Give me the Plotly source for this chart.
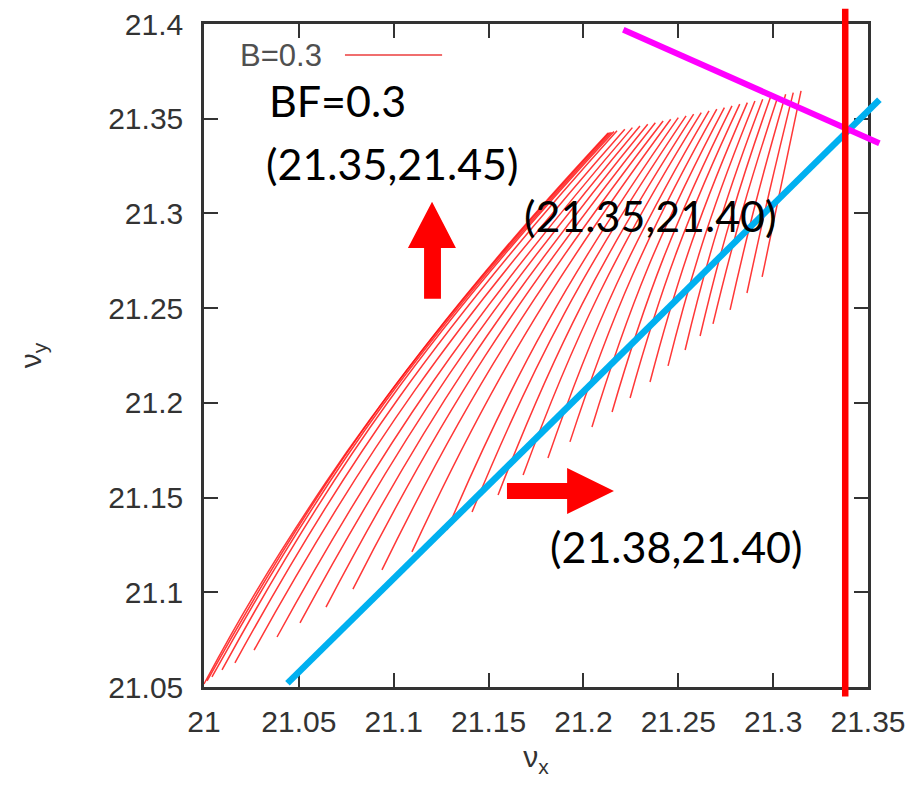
import plotly.graph_objects as go

# ---- axes -------------------------------------------------------------
x_ticks = [21.0, 21.05, 21.1, 21.15, 21.2, 21.25, 21.3, 21.35]
x_tick_text = ["21", "21.05", "21.1", "21.15", "21.2", "21.25", "21.3", "21.35"]
y_ticks = [21.05, 21.1, 21.15, 21.2, 21.25, 21.3, 21.35, 21.4]
y_tick_text = ["21.05", "21.1", "21.15", "21.2", "21.25", "21.3", "21.35", "21.4"]
x_range = [21.0, 21.35]
y_range = [21.05, 21.4]

# ---- tune footprint (B = 0.3) ------------------------------------------
# left envelope of the footprint
envelope_x = [21.0000, 21.0270, 21.0640, 21.0912, 21.1151, 21.1360, 21.1702, 21.2130]
envelope_y = [21.0516, 21.0996, 21.1577, 21.1963, 21.2279, 21.2543, 21.2950, 21.3425]

# the remaining footprint lines: lower end, middle point, upper end
bottom_x = [21.0016, 21.0042, 21.0095, 21.0163, 21.0264, 21.0385, 21.0506, 21.0643,
            21.0785, 21.0938, 21.1096, 21.1281, 21.1413, 21.1550, 21.1682, 21.1813,
            21.1929, 21.2045, 21.2151, 21.2246, 21.2351, 21.2446, 21.2536, 21.2615,
            21.2683, 21.2773, 21.2862, 21.2942]
bottom_y = [21.0532, 21.0553, 21.0590, 21.0627, 21.0695, 21.0764, 21.0838, 21.0922,
            21.1017, 21.1118, 21.1213, 21.1329, 21.1424, 21.1514, 21.1619, 21.1709,
            21.1794, 21.1873, 21.1952, 21.2026, 21.2110, 21.2195, 21.2279, 21.2353,
            21.2417, 21.2491, 21.2580, 21.2665]
mid_x = [21.0925, 21.0945, 21.0975, 21.1030, 21.1114, 21.1205, 21.1292, 21.1386,
         21.1482, 21.1584, 21.1689, 21.1806, 21.1898, 21.1992, 21.2083, 21.2174,
         21.2258, 21.2341, 21.2420, 21.2493, 21.2571, 21.2644, 21.2714, 21.2779,
         21.2839, 21.2909, 21.2979, 21.3044]
mid_y = [21.1979, 21.1991, 21.2011, 21.2031, 21.2070, 21.2109, 21.2150, 21.2197,
         21.2248, 21.2303, 21.2355, 21.2417, 21.2469, 21.2519, 21.2576, 21.2625,
         21.2672, 21.2716, 21.2760, 21.2801, 21.2848, 21.2894, 21.2941, 21.2982,
         21.3018, 21.3060, 21.3109, 21.3156]
top_x = [21.2138, 21.2148, 21.2161, 21.2177, 21.2218, 21.2258, 21.2298, 21.2339,
         21.2379, 21.2420, 21.2460, 21.2500, 21.2541, 21.2581, 21.2621, 21.2662,
         21.2703, 21.2743, 21.2783, 21.2824, 21.2864, 21.2904, 21.2945, 21.2985,
         21.3026, 21.3066, 21.3106, 21.3147]
top_y = [21.3427, 21.3429, 21.3432, 21.3436, 21.3445, 21.3453, 21.3462, 21.3471,
         21.3479, 21.3488, 21.3497, 21.3506, 21.3515, 21.3524, 21.3532, 21.3541,
         21.3550, 21.3559, 21.3568, 21.3577, 21.3585, 21.3594, 21.3603, 21.3611,
         21.3620, 21.3629, 21.3638, 21.3647]

# ---- resonance / guide lines -------------------------------------------
diag_x = [21.044, 21.356]        # blue diagonal
diag_y = [21.052, 21.360]
skew_x = [21.221, 21.356]        # magenta line
skew_y = [21.397, 21.337]
vert_x = [21.338, 21.338]        # red vertical line
vert_y = [21.045, 21.408]

# ---- labels ------------------------------------------------------------
label_text = ["BF=0.3", "(21.35,21.45)", "(21.35,21.40)", "(21.38,21.40)"]
label_x = [21.0706, 21.0991, 21.2351, 21.2493]
label_y = [21.3594, 21.3262, 21.2987, 21.1240]

# ---- page geometry -------------------------------------------------------
W, H = 920, 789
M_L, M_R, M_T, M_B = 204, 30, 5, 84
plot_w = W - M_L - M_R
plot_h = H - M_T - M_B
frame_w, frame_h = 664, 663
frame_bottom_gap = 18
x_dom = [0.0, frame_w / plot_w]
y_dom = [frame_bottom_gap / plot_h, (frame_bottom_gap + frame_h) / plot_h]

# overlay axes spanning the whole plotting area, same scale as the main axes,
# so the guide lines may run past the frame
x_scale = (x_range[1] - x_range[0]) / frame_w
y_scale = (y_range[1] - y_range[0]) / frame_h
x2_range = [x_range[0], x_range[0] + plot_w * x_scale]
y2_lo = y_range[0] - frame_bottom_gap * y_scale
y2_range = [y2_lo, y2_lo + plot_h * y_scale]

fig = go.Figure()

fp_color = "rgba(255,20,20,0.85)"
fp_line = dict(color=fp_color, width=1.5, shape="spline", smoothing=1.3)
fig.add_trace(go.Scatter(x=envelope_x, y=envelope_y, mode="lines", line=fp_line,
                         showlegend=False, hoverinfo="skip"))
fx, fy = [], []
for i in range(len(top_x)):
    fx += [bottom_x[i], mid_x[i], top_x[i], None]
    fy += [bottom_y[i], mid_y[i], top_y[i], None]
fig.add_trace(go.Scatter(x=fx, y=fy, mode="lines", line=fp_line,
                         showlegend=False, hoverinfo="skip"))

fig.add_trace(go.Scatter(x=diag_x, y=diag_y, mode="lines", xaxis="x2", yaxis="y2",
                         line=dict(color="#00b0f0", width=6.5),
                         showlegend=False, hoverinfo="skip"))
fig.add_trace(go.Scatter(x=skew_x, y=skew_y, mode="lines", xaxis="x2", yaxis="y2",
                         line=dict(color="#ff00ff", width=6),
                         showlegend=False, hoverinfo="skip"))
fig.add_trace(go.Scatter(x=vert_x, y=vert_y, mode="lines", xaxis="x2", yaxis="y2",
                         line=dict(color="#ff0000", width=6.5),
                         showlegend=False, hoverinfo="skip"))

# block arrows
up_arrow = ("M 21.1202 21.3061 L 21.1328 21.2818 L 21.1249 21.2818 L 21.1249 21.2549 "
            "L 21.1160 21.2549 L 21.1160 21.2818 L 21.1075 21.2818 Z")
right_arrow = ("M 21.2161 21.1535 L 21.1914 21.1656 L 21.1914 21.1577 L 21.1597 21.1577 "
               "L 21.1597 21.1493 L 21.1914 21.1493 L 21.1914 21.1413 Z")
for p in (up_arrow, right_arrow):
    fig.add_shape(type="path", path=p, xref="x", yref="y",
                  fillcolor="#ff0000", line=dict(width=0), layer="above")

# key: text followed by a line sample
fig.add_annotation(x=21.0406, y=21.3832, xref="x", yref="y", text="B=0.3",
                   showarrow=False, xanchor="center", yanchor="middle",
                   font=dict(family="Liberation Sans", size=31, color="#505050"))
fig.add_shape(type="line", x0=21.0743, x1=21.1255, y0=21.3837, y1=21.3837,
              xref="x", yref="y", line=dict(color="rgb(240,110,110)", width=2))

for t, lx, ly in zip(label_text, label_x, label_y):
    fig.add_annotation(x=lx, y=ly, xref="x", yref="y", text=t, showarrow=False,
                       xanchor="center", yanchor="middle",
                       font=dict(family="Lato", size=43, color="#000000"))

axis_font = dict(family="Liberation Sans", size=30, color="#333333")
common = dict(showgrid=False, zeroline=False, showline=True, linecolor="#333333",
              linewidth=2.5, mirror="ticks", ticks="inside", ticklen=14,
              tickwidth=2, tickcolor="#333333", tickfont=axis_font,
              automargin=False)

fig.update_layout(
    width=W, height=H,
    margin=dict(l=M_L, r=M_R, t=M_T, b=M_B, pad=0),
    paper_bgcolor="white", plot_bgcolor="rgba(0,0,0,0)",
    xaxis=dict(range=x_range, domain=x_dom, anchor="y", tickvals=x_ticks,
               ticktext=x_tick_text, ticklabelstandoff=6,
               title=dict(text="ν<sub>x</sub>", font=axis_font, standoff=10),
               **common),
    yaxis=dict(range=y_range, domain=y_dom, anchor="x", tickvals=y_ticks,
               ticktext=y_tick_text, ticklabelstandoff=12,
               title=dict(text="ν<sub>y</sub>", font=axis_font, standoff=58),
               **common),
    xaxis2=dict(range=x2_range, domain=[0, 1], anchor="y2", visible=False,
                showgrid=False, zeroline=False, automargin=False),
    yaxis2=dict(range=y2_range, domain=[0, 1], anchor="x2", visible=False,
                showgrid=False, zeroline=False, automargin=False),
)

fig.write_html("out.html")
